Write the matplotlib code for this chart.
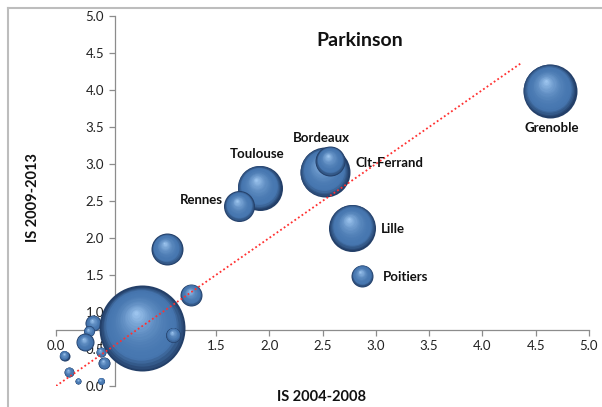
import numpy as np
import matplotlib
matplotlib.use("Agg")
import matplotlib.pyplot as plt
from matplotlib import transforms
from matplotlib.colors import to_rgb
from matplotlib.lines import Line2D

# data (x = IS 2004-2008, y = IS 2009-2013)
names = ["", "", "", "", "", "", "", "", "", "", "",
         "", "", "Toulouse", "Rennes", "Bordeaux", "Clt-Ferrand", "Lille", "Poitiers", "Grenoble"]
is_0408 = [0.35, 0.81, 1.10, 0.31, 0.27, 0.08, 0.42, 0.45, 0.12, 0.21, 0.42,
           1.04, 1.27, 1.91, 1.72, 2.52, 2.57, 2.78, 2.87, 4.63]
is_0913 = [0.85, 0.78, 0.69, 0.74, 0.59, 0.41, 0.46, 0.31, 0.19, 0.07, 0.07,
           1.85, 1.23, 2.68, 2.43, 2.89, 3.04, 2.14, 1.49, 3.99]
bubble_size = [64, 1849, 56, 30, 81, 25, 25, 36, 25, 9, 12,
               256, 121, 506, 240, 625, 225, 552, 121, 729]

trend_x = [0.0, 4.37]
trend_y = [0.0, 4.37]

ticks = [0.0, 0.5, 1.0, 1.5, 2.0, 2.5, 3.0, 3.5, 4.0, 4.5, 5.0]

# label offsets in pixels (dx, dy, ha)
label_pos = {
    "Toulouse": (-3, 34, "center"),
    "Rennes": (-16, 6, "right"),
    "Bordeaux": (-3, 34, "center"),
    "Clt-Ferrand": (26, -2, "left"),
    "Lille": (29, -1, "left"),
    "Poitiers": (21, -1, "left"),
    "Grenoble": (2, -37, "center"),
}

plt.rcParams['font.family'] = ['Lato', 'DejaVu Sans']

fig = plt.figure(figsize=(6.02, 4.07), dpi=100)
ax = fig.add_axes([56 / 602, 1 - 386 / 407, 533 / 602, 370 / 407])
ax.set_xlim(0, 5)
ax.set_ylim(0, 5)
ax.set_xticks(ticks)
ax.set_yticks(ticks)
ax.set_xticklabels(["%.1f" % t for t in ticks])
ax.set_yticklabels(["%.1f" % t for t in ticks])

# axes cross inside the plot
ax.spines['left'].set_position(('data', 0.55))
ax.spines['bottom'].set_position(('data', 0.757))
ax.spines['top'].set_visible(False)
ax.spines['right'].set_visible(False)
for s in ['left', 'bottom']:
    ax.spines[s].set_color('#8c8c8c')
    ax.spines[s].set_linewidth(0.9)
ax.tick_params(colors='#8c8c8c', labelcolor='#222222', labelsize=9.5, length=4, width=0.9)

# shaded bubbles: stacked circles getting lighter towards a highlight
dark = np.array(to_rgb('#233f68'))
mid = np.array(to_rgb('#4777b0'))
light = np.array(to_rgb('#9cc4ee'))
n_layers = 22
for i in range(len(is_0408)):
    r = np.sqrt(bubble_size[i])  # radius in pixels
    for k in range(n_layers):
        t = k / (n_layers - 1)
        f = 1 - 0.95 * t
        if t < 0.2:
            c = dark + (mid - dark) * (t / 0.2)
        else:
            c = mid + (light - mid) * ((t - 0.2) / 0.8) ** 2.0
        dx = -0.15 * r * t
        dy = 0.35 * r * t
        tr = transforms.offset_copy(ax.transData, fig=fig, x=dx, y=dy, units='dots')
        d = 2 * r * f * 0.72
        ax.scatter([is_0408[i]], [is_0913[i]], s=d ** 2, color=c, lw=0,
                   transform=tr, zorder=3 + i * 0.01, clip_on=False)

# dotted trend line, drawn over the bubbles
ax.plot(trend_x, trend_y, color='#ff3030', ls=(0, (1.0, 1.4)), lw=1.3, zorder=10)

for i, nm in enumerate(names):
    if nm == "":
        continue
    dx, dy, ha = label_pos[nm]
    ax.annotate(nm, (is_0408[i], is_0913[i]), xytext=(dx, dy), textcoords='offset pixels',
                ha=ha, va='center', fontsize=9.5, fontweight='bold', color='#111111', zorder=11)

fig.text(360 / 602, 1 - 41 / 407, "Parkinson", ha='center', va='center',
         fontsize=14, fontweight='bold', color='#111111')
fig.text(322 / 602, 1 - 397 / 407, "IS 2004-2008", ha='center', va='center',
         fontsize=10.5, fontweight='bold', color='#111111')
fig.text(33 / 602, 1 - 198 / 407, "IS 2009-2013", ha='center', va='center', rotation=90,
         fontsize=10.5, fontweight='bold', color='#111111')

# chart area border
fig.add_artist(Line2D([8 / 602, 8 / 602], [0, 1 - 8 / 407], transform=fig.transFigure,
                      color='#bdbdbd', lw=1.5))
fig.add_artist(Line2D([8 / 602, 1], [1 - 8 / 407, 1 - 8 / 407], transform=fig.transFigure,
                      color='#bdbdbd', lw=1.5))

fig.savefig("out.png", dpi=100)
